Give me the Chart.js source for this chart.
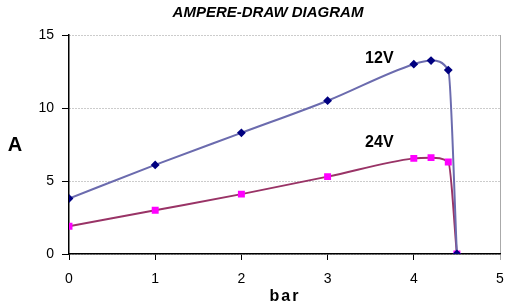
<!DOCTYPE html>
<html>
<head>
<meta charset="utf-8">
<script src="https://cdn.jsdelivr.net/npm/chart.js@4/dist/chart.umd.min.js"></script>
<style>
  html, body { margin: 0; padding: 0; background: #fff; }
  #wrap { width: 531px; height: 307px; }
</style>
</head>
<body>
<div id="wrap"><canvas id="chart" width="531" height="307"></canvas></div>
<script>
// pressure (bar) vs current (A)
const pressure12 = [0, 1, 2, 3, 4, 4.2, 4.4, 4.5];
const amps12 = [3.8, 6.1, 8.3, 10.5, 13.0, 13.25, 12.6, 0];
const pressure24 = [0, 1, 2, 3, 4, 4.2, 4.4, 4.5];
const amps24 = [1.9, 3.0, 4.1, 5.3, 6.55, 6.6, 6.3, 0];
const seriesLabels = ['12V', '24V'];
const labelSpots = [[3.6, 13.4], [3.6, 7.6]];

const font = 'Liberation Sans, Arial, sans-serif';

const textPlugin = {
    id: 'textPlugin',
    afterDraw(chart) {
        const ctx = chart.ctx;
        const xs = chart.scales.x, ys = chart.scales.y;
        ctx.save();
        ctx.fillStyle = '#000';
        ctx.textAlign = 'center';
        ctx.textBaseline = 'middle';
        ctx.font = 'italic bold 15px ' + font;
        ctx.fillText('AMPERE-DRAW DIAGRAM', 268, 13);
        ctx.font = 'bold 16px ' + font;
        seriesLabels.forEach((s, i) => {
            ctx.fillText(s, xs.getPixelForValue(labelSpots[i][0]), ys.getPixelForValue(labelSpots[i][1]));
        });
        ctx.font = 'bold 20px ' + font;
        ctx.fillText('A', 15, 145);
        ctx.font = 'bold 16px ' + font;
        ctx.letterSpacing = '2px';
        ctx.fillText('bar', 285, 297);
        ctx.restore();
    }
};

new Chart(document.getElementById('chart').getContext('2d'), {
    type: 'line',
    data: {
        datasets: [{
            label: seriesLabels[0],
            data: pressure12.map((p, i) => ({ x: p, y: amps12[i] })),
            borderColor: '#6b6bae',
            borderWidth: 2,
            pointStyle: 'rectRot',
            pointRadius: 3,
            pointBackgroundColor: '#000080',
            pointBorderColor: '#000080',
            cubicInterpolationMode: 'monotone',
            fill: false
        }, {
            label: seriesLabels[1],
            data: pressure24.map((p, i) => ({ x: p, y: amps24[i] })),
            borderColor: '#993366',
            borderWidth: 2,
            pointStyle: 'rect',
            pointRadius: 3.5,
            pointBackgroundColor: '#ff00ff',
            pointBorderColor: '#ff00ff',
            cubicInterpolationMode: 'monotone',
            fill: false
        }]
    },
    options: {
        responsive: false,
        animation: false,
        layout: { padding: { left: 0, right: 31, top: 35, bottom: 0 } },
        plugins: {
            legend: { display: false },
            tooltip: { enabled: false }
        },
        scales: {
            x: {
                type: 'linear',
                min: 0,
                max: 5,
                afterFit(scale) { scale.height = 53; },
                ticks: { stepSize: 1, color: '#000', font: { family: font, size: 14 }, padding: 11 },
                grid: {
                    color: (c) => c.tick && c.tick.value === 5 ? '#aaa' : 'rgba(0,0,0,0)',
                    tickColor: (c) => c.tick && c.tick.value === 5 ? '#aaa' : '#000',
                    tickLength: 6
                },
                border: { color: '#000', width: 1.5 }
            },
            y: {
                min: 0,
                max: 15,
                afterFit(scale) { scale.width = 69; },
                ticks: { stepSize: 5, color: '#000', font: { family: font, size: 14 }, padding: 8 },
                grid: {
                    color: '#999',
                    tickColor: '#000',
                    tickBorderDash: [],
                    tickLength: 7
                },
                border: { color: '#000', width: 1.5, dash: [1, 2] }
            }
        }
    },
    plugins: [textPlugin]
});
</script>
</body>
</html>
